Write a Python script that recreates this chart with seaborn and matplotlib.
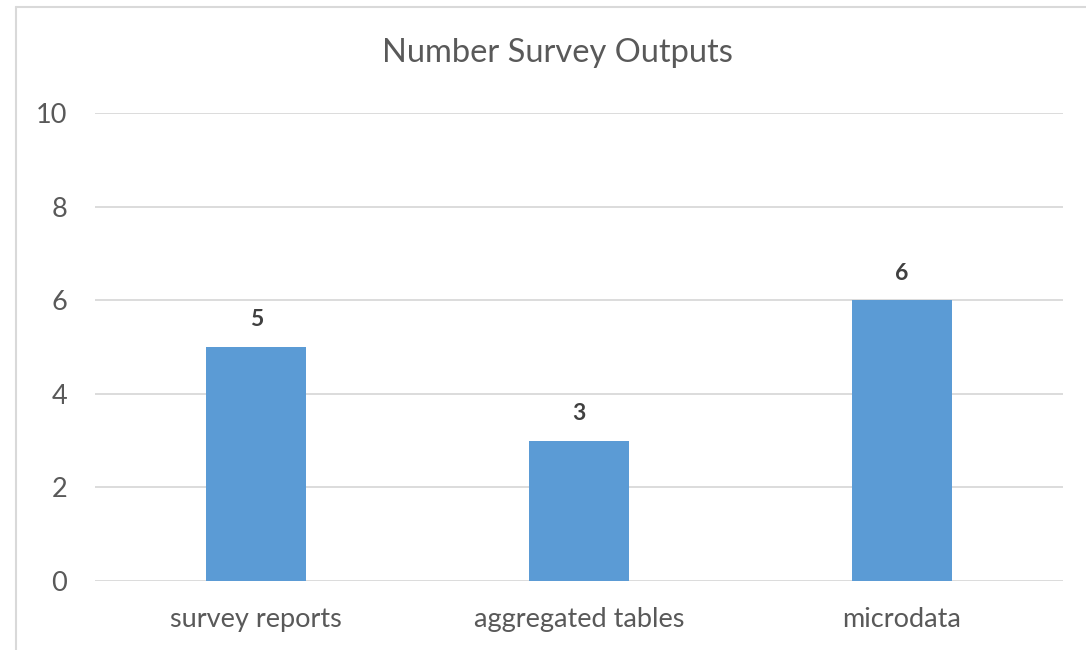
import matplotlib
matplotlib.use("Agg")
import matplotlib.pyplot as plt
import seaborn as sns
import pandas as pd
from matplotlib.lines import Line2D

categories = ["survey reports", "aggregated tables", "microdata"]
values = [5, 3, 6]
yticks = [0, 2, 4, 6, 8, 10]
title = "Number Survey Outputs"

sns.set_theme(style="white")
plt.rcParams['font.family'] = ['Lato', 'DejaVu Sans']

df = pd.DataFrame({"category": categories, "value": values})

fig = plt.figure(figsize=(10.86, 6.5), dpi=100)
ax = fig.add_axes([95/1086, 1-581/650, (1063-95)/1086, (581-113)/650])

sns.barplot(data=df, x="category", y="value", color="#5B9BD5", width=0.31,
            saturation=1, linewidth=0, ax=ax, zorder=3)

ax.set_xlim(-0.5, 2.5)
ax.set_ylim(0, 10)
ax.set_yticks(yticks)
ax.set_yticklabels([str(t) for t in yticks])
ax.grid(axis="y", color="#D9D9D9", linewidth=1.3, zorder=0)
ax.grid(axis="x", visible=False)
for s in ax.spines.values():
    s.set_visible(False)
ax.set_xlabel("")
ax.set_ylabel("")
ax.tick_params(axis="both", length=0, labelsize=19.5, colors="#595959")
ax.tick_params(axis="y", pad=20)
ax.tick_params(axis="x", pad=19)

for i, v in enumerate(values):
    ax.annotate(str(v), (i, v), xytext=(0, 12), textcoords="offset points",
                ha="center", va="bottom", fontsize=16.5, fontweight="bold",
                color="#404040")

fig.text(557/1086, 1-53/650, title, ha="center", va="center", fontsize=23.5,
         color="#595959")

# outer chart border (left and top visible)
fig.add_artist(Line2D([16/1086, 16/1086], [0, 1-7/650], transform=fig.transFigure,
                      color="#D9D9D9", linewidth=1.5))
fig.add_artist(Line2D([16/1086, 1], [1-7/650, 1-7/650], transform=fig.transFigure,
                      color="#D9D9D9", linewidth=1.5))

fig.savefig("out.png", dpi=100, facecolor="white")
